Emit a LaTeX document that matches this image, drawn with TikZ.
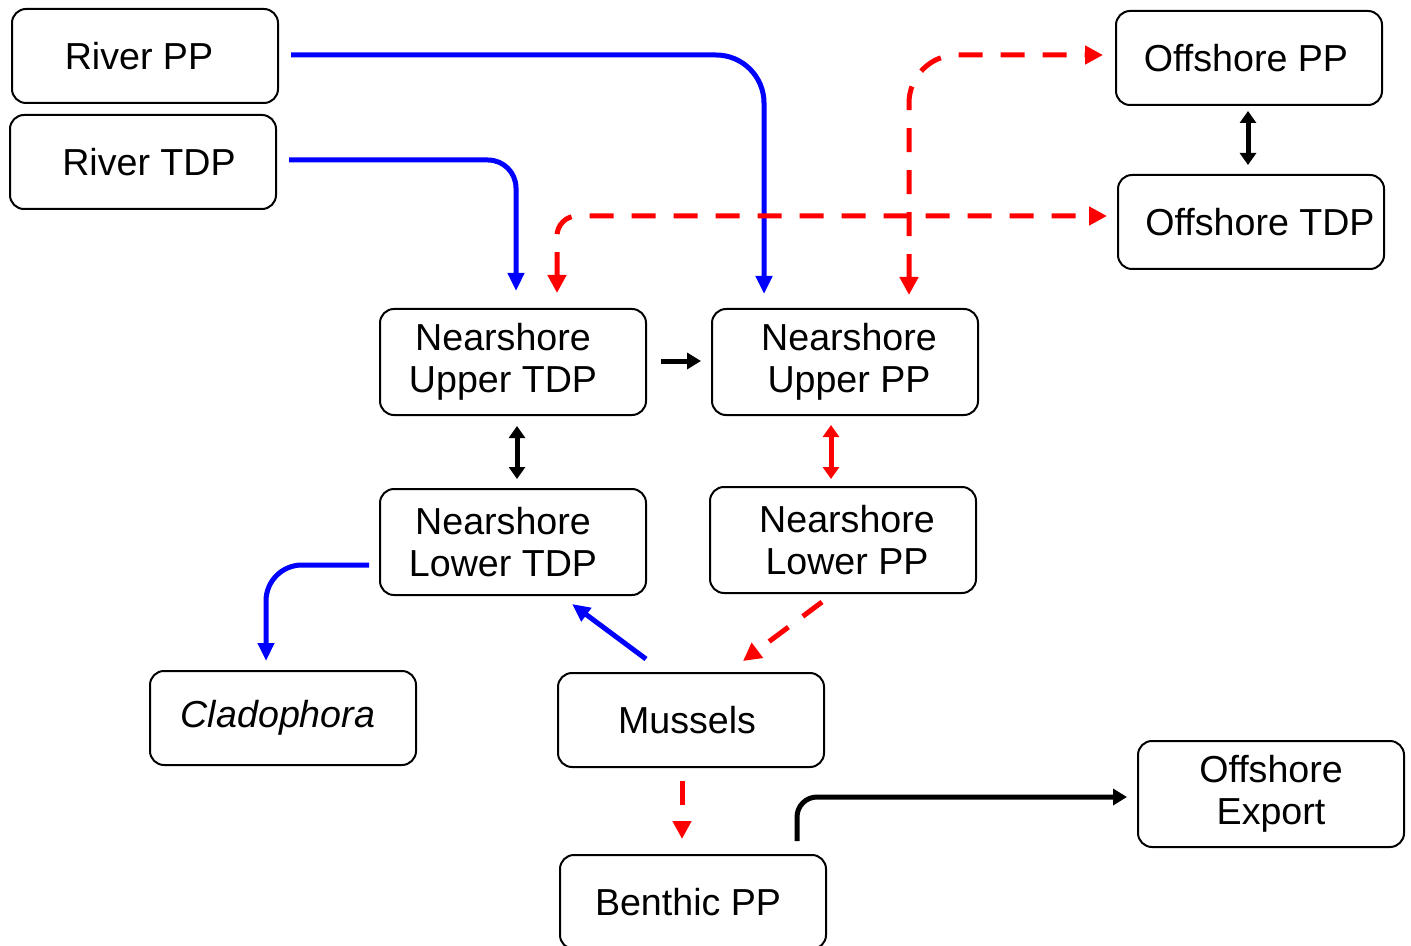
\documentclass[tikz,border=0pt]{standalone}
\usepackage{fontspec}
\setmainfont{Liberation Sans}
\usetikzlibrary{positioning,calc,arrows.meta}

\tikzset{
  pool/.style={draw=black,line width=1pt,rounded corners=7pt,minimum width=133pt,
    minimum height=47pt,align=center,inner sep=2pt,font=\fontsize{18.8}{21}\selectfont},
  pooltwo/.style={pool,minimum height=53pt},
  blueflow/.style={draw=blue,line width=2.5pt,-{Triangle[length=9pt,width=8pt]}},
  redflow/.style={draw=red,line width=2.5pt,dash pattern=on 12pt off 9pt,-{Triangle[length=9pt,width=9pt]}},
  redboth/.style={redflow,{Triangle[length=9pt,width=9pt]}-{Triangle[length=9pt,width=9pt]}},
  blackflow/.style={draw=black,line width=2.5pt,-{Triangle[length=7pt,width=8pt]}},
  blackboth/.style={draw=black,line width=2.5pt,{Triangle[length=6pt,width=8pt]}-{Triangle[length=6pt,width=8pt]}}
}
% push a line of text sideways inside its box
\newcommand{\padr}[1]{\hspace*{#1}}

\begin{document}
\begin{tikzpicture}[x=0.5pt,y=-0.5pt]
\useasboundingbox (0,0) rectangle (1411,946);

% pools
\node[pool] (rpp) at (145,56) {River PP\padr{6pt}};
\node[pool] (rtdp) at (143,162) {\padr{6pt}River TDP};
\node[pool] (opp) at (1249,58) {Offshore PP\padr{3pt}};
\node[pool] (otdp) at (1251,222) {\padr{9pt}Offshore TDP};
\node[pooltwo] (nutdp) at (513,362) {Nearshore\padr{10pt}\\Upper TDP\padr{10pt}};
\node[pooltwo] (nupp) at (845,362) {\padr{4pt}Nearshore\\\padr{4pt}Upper PP};
\node[pooltwo] (nltdp) at (513,542) {Nearshore\padr{10pt}\\Lower TDP\padr{10pt}};
\node[pooltwo] (nlpp) at (843,540) {\padr{4pt}Nearshore\\\padr{4pt}Lower PP};
\node[pool] (clad) at (283,718) {\itshape Cladophora\padr{5pt}};
\node[pool] (mus) at (691,720) {Mussels\padr{4pt}};
\node[pool] (bpp) at (693,902) {Benthic PP\padr{5pt}};
\node[pooltwo] (oexp) at (1271,794) {Offshore\\Export};

% river inputs
\draw[blueflow,rounded corners=24pt] ($(rpp.east)+(12,-1)$) -| ($(nupp.north)+(-81,-14)$);
\draw[blueflow,rounded corners=14pt] ($(rtdp.east)+(12,-2)$) -| ($(nutdp.north)+(3,-17)$);

% offshore exchange
\draw[redboth,rounded corners=24pt] ($(nupp.north)+(64,-13)$) |- ($(opp.west)+(-12,-3)$);
\draw[redboth,rounded corners=10pt] ($(nutdp.north)+(44,-15)$) |- ($(otdp.west)+(-10,-6)$);
\draw[blackboth] ($(opp.south)+(-1,5)$) -- ($(opp.south |- otdp.north)+(-1,-9)$);

% nearshore
\draw[blackflow] ($(nutdp.east)+(14,-1)$) -- ($(nupp.west)+(-10,-1)$);
\draw[blackboth] ($(nutdp.south)+(4,10)$) -- ($(nutdp.south |- nltdp.north)+(4,-9)$);
\draw[draw=red,line width=2.5pt,{Triangle[length=6pt,width=8pt]}-{Triangle[length=6pt,width=8pt]}]
  ($(nupp.south)+(-14,9)$) -- ($(nupp.south |- nlpp.north)+(-14,-7)$);

% benthic
\draw[blueflow,rounded corners=18pt] ($(nltdp.west)+(-10,23)$) -| ($(clad.north)+(-17,-9)$);
\draw[redflow] ($(nlpp.south)+(-21,8)$) -- ($(mus.north)+(52,-11)$);
\draw[blueflow] ($(mus.north)+(-45,-13)$) -- ($(nltdp.south)+(59,8)$);
\draw[redflow] ($(mus.south)+(-9,13)$) -- ($(bpp.north)+(-11,-15)$);
\draw[blackflow,rounded corners=10pt] ($(bpp.north)+(104,-13)$) |- ($(oexp.west)+(-10,3)$);

\end{tikzpicture}
\end{document}
